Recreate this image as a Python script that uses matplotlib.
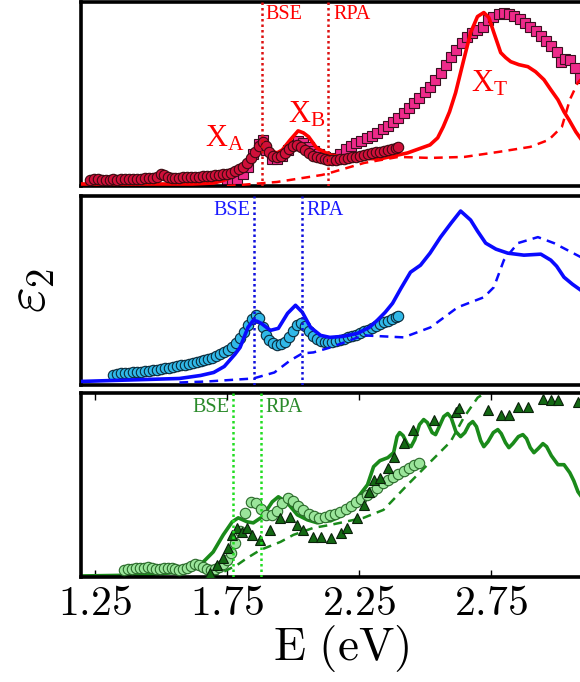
import numpy as np
import matplotlib
matplotlib.use('Agg')
import matplotlib.pyplot as plt

plt.rcParams['mathtext.fontset'] = 'cm'
plt.rcParams['font.family'] = ['Liberation Serif', 'DejaVu Serif']

## ------------------------------
## top panel (red)
red_sol_x = [1.19, 1.50, 1.62, 1.70, 1.73, 1.76, 1.79, 1.81, 1.83, 1.85, 1.87, 1.89, 1.91, 1.94, 1.96,
             1.99, 2.02, 2.04, 2.06, 2.09, 2.14, 2.218, 2.33, 2.435, 2.52, 2.549, 2.57, 2.594,
             2.617, 2.648, 2.674, 2.70, 2.724, 2.743, 2.762, 2.788, 2.807, 2.826, 2.857, 2.891,
             2.92, 2.952, 2.978, 3.005, 3.028, 3.047, 3.073, 3.10]
red_sol_y = [2, 2, 2, 3, 5, 8, 13, 18, 23, 29, 34, 38, 36, 33, 36,
             46, 55, 53, 49, 38, 31, 28, 27, 33, 41, 48, 59, 74,
             93, 126, 153, 169, 173, 168, 153, 133, 128, 124, 121, 119,
             114, 106, 96, 86, 74, 66, 54, 44]
red_das_x = [1.75, 1.80, 1.94, 2.11, 2.14, 2.27, 2.40, 2.52, 2.65, 2.78, 2.90, 2.97, 3.02, 3.05, 3.08, 3.10]
red_das_y = [0, 1, 4, 11, 13, 23, 29, 28, 29, 34, 39, 46, 59, 86, 103, 109]
red_circ_x = [1.230, 1.245, 1.260, 1.275, 1.290, 1.305, 1.320, 1.335, 1.350, 1.365, 1.380, 1.395,
              1.410, 1.425, 1.440, 1.455, 1.470, 1.485, 1.500, 1.512, 1.525, 1.540, 1.555, 1.570,
              1.585, 1.600, 1.615, 1.630, 1.645, 1.660, 1.675, 1.690, 1.705, 1.720, 1.735, 1.750,
              1.765, 1.780, 1.795, 1.810, 1.825, 1.840, 1.855, 1.870, 1.885, 1.897, 1.910, 1.925,
              1.940, 1.955, 1.970, 1.985, 2.000, 2.015, 2.030, 2.045, 2.060, 2.075, 2.090, 2.105,
              2.120, 2.135, 2.150, 2.165, 2.180, 2.195, 2.210, 2.225, 2.240, 2.255, 2.270, 2.285,
              2.300, 2.315, 2.330, 2.345, 2.360, 2.375, 2.390, 2.400]
red_circ_y = [6, 7, 7, 6, 6, 6, 7, 6, 7, 7, 7, 7,
              7, 7, 8, 8, 8, 9, 12, 11, 9, 8, 8, 8,
              9, 9, 9, 9, 9, 10, 10, 10, 11, 11, 12, 12,
              13, 15, 17, 19, 23, 28, 34, 40, 44, 40, 34, 30,
              29, 30, 33, 37, 40, 41, 39, 36, 33, 30, 29, 28,
              27, 26, 26, 26, 27, 27, 28, 29, 29, 30, 31, 32,
              33, 34, 34, 35, 36, 37, 38, 39]
red_sq_x = [1.75, 1.77, 1.79, 1.81, 1.83, 1.85, 1.87, 1.885, 1.90, 1.92, 1.94, 1.96, 1.98, 2.00, 2.02,
            2.04, 2.06, 2.08, 2.10, 2.12, 2.14, 2.16, 2.18, 2.20, 2.22, 2.24, 2.26, 2.28, 2.30, 2.32,
            2.34, 2.36, 2.38, 2.40, 2.42, 2.44, 2.46, 2.48, 2.50, 2.52, 2.54, 2.56, 2.58, 2.60, 2.62,
            2.64, 2.66, 2.68, 2.70, 2.72, 2.74, 2.76, 2.78, 2.80, 2.82, 2.84, 2.86, 2.88, 2.90, 2.92,
            2.94, 2.96, 2.98, 3.00, 3.015, 3.03, 3.05, 3.07, 3.09]
red_sq_y = [2, 4, 7, 12, 19, 32, 42, 46, 36, 27, 27, 30, 36, 41, 45,
            43, 39, 35, 32, 29, 27, 28, 32, 37, 40, 43, 45, 48, 50, 53,
            57, 60, 64, 68, 73, 78, 83, 88, 94, 99, 106, 113, 121, 129, 136,
            143, 149, 153, 156, 159, 166, 169, 172, 173, 172, 170, 167, 163, 159, 155,
            150, 145, 140, 134, 124, 127, 126, 118, 108]
red_bse = 1.884
red_rpa = 2.135

## middle panel (blue)
blue_sol_x = [1.19, 1.57, 1.65, 1.70, 1.74, 1.76, 1.78, 1.80, 1.83, 1.85, 1.865, 1.88, 1.915, 1.945,
              1.98, 2.01, 2.036, 2.067, 2.105, 2.14, 2.19, 2.245, 2.29, 2.32, 2.35, 2.378, 2.41,
              2.446, 2.484, 2.52, 2.56, 2.60, 2.636, 2.674, 2.70, 2.731, 2.77, 2.815, 2.876,
              2.94, 2.978, 3.00, 3.028, 3.06, 3.092]
blue_sol_y = [3, 6, 9, 12, 18, 24, 30, 37, 57, 64, 63, 61, 54, 56,
              71, 79, 72, 57, 49, 47, 48, 51, 57, 64, 72, 81, 96,
              112, 119, 131, 147, 161, 173, 164, 153, 141, 135, 131, 129,
              130, 124, 118, 107, 100, 94]
blue_das_x = [1.57, 1.675, 1.85, 1.93, 1.99, 2.036, 2.078, 2.143, 2.268, 2.42, 2.522, 2.625, 2.724,
              2.762, 2.80, 2.853, 2.929, 2.99, 3.092]
blue_das_y = [2, 3, 6, 12, 24, 31, 32, 37, 49, 47, 57, 77, 87, 97, 124, 141, 147, 141, 127]
blue_circ_x = [1.320, 1.335, 1.350, 1.365, 1.380, 1.395, 1.410, 1.425, 1.440, 1.455, 1.470, 1.485,
               1.500, 1.515, 1.530, 1.545, 1.560, 1.575, 1.590, 1.605, 1.620, 1.635, 1.650, 1.665,
               1.680, 1.695, 1.710, 1.725, 1.740, 1.755, 1.770, 1.785, 1.800, 1.815, 1.830, 1.845,
               1.860, 1.872, 1.885, 1.897, 1.910, 1.925, 1.940, 1.955, 1.970, 1.985, 2.000, 2.015,
               2.030, 2.045, 2.060, 2.075, 2.090, 2.105, 2.120, 2.135, 2.150, 2.165, 2.180, 2.195,
               2.210, 2.225, 2.240, 2.255, 2.270, 2.285, 2.300, 2.315, 2.330, 2.345, 2.360, 2.375,
               2.390, 2.400]
blue_circ_y = [9, 10, 11, 11, 11, 12, 12, 12, 13, 13, 14, 14,
               15, 16, 16, 17, 18, 19, 19, 20, 21, 22, 23, 24,
               25, 26, 28, 30, 32, 34, 37, 41, 46, 52, 59, 65,
               69, 66, 57, 49, 44, 41, 39, 40, 42, 47, 53, 59,
               61, 58, 53, 48, 45, 43, 42, 42, 42, 43, 44, 45,
               47, 48, 49, 51, 53, 54, 56, 58, 60, 62, 63, 65,
               67, 68]
blue_bse = 1.854
blue_rpa = 2.036

## bottom panel (green)
grn_sol_x = [1.19, 1.447, 1.573, 1.649, 1.698, 1.736, 1.77, 1.793, 1.827, 1.85, 1.884, 1.922, 1.945,
             1.979, 2.017, 2.055, 2.093, 2.12, 2.143, 2.192, 2.245, 2.283, 2.306, 2.33, 2.36, 2.382,
             2.395, 2.405, 2.418, 2.435, 2.448, 2.462, 2.48, 2.496, 2.51, 2.528, 2.541, 2.555,
             2.572, 2.587, 2.60, 2.618, 2.636, 2.652, 2.668, 2.682, 2.696, 2.712, 2.724, 2.74,
             2.76, 2.777, 2.79, 2.806, 2.819, 2.834, 2.855, 2.872, 2.886, 2.90, 2.914, 2.93,
             2.948, 2.962, 2.98, 3.005, 3.028, 3.05, 3.065, 3.081, 3.10]
grn_sol_y = [1, 2, 5, 12, 25, 42, 55, 59, 55, 54, 60, 75, 80,
             74, 62, 57, 54, 56, 56, 62, 79, 92, 110, 116, 119, 124,
             140, 144, 141, 132, 130, 137, 152, 157, 154, 144, 142, 150,
             160, 163, 159, 145, 140, 144, 152, 155, 150, 136, 130, 135,
             144, 147, 143, 134, 129, 133, 140, 142, 138, 129, 124, 128,
             133, 130, 121, 112, 112, 104, 96, 85, 78]
grn_das_x = [1.687, 1.736, 1.789, 1.827, 1.877, 1.953, 2.002, 2.078, 2.143, 2.268, 2.344, 2.435,
             2.522, 2.598, 2.648, 2.701, 2.739, 2.77]
grn_das_y = [0, 5, 12, 19, 27, 35, 42, 49, 52, 59, 67, 92, 115, 135, 159, 179, 185, 195]
grn_circ_x = [1.36, 1.375, 1.39, 1.405, 1.42, 1.435, 1.45, 1.465, 1.48, 1.495, 1.51, 1.525, 1.54,
              1.555, 1.57, 1.585, 1.60, 1.615, 1.63, 1.645, 1.66, 1.675, 1.69, 1.705, 1.72, 1.735,
              1.75, 1.765, 1.78, 1.80, 1.82, 1.84, 1.86, 1.88, 1.90, 1.92, 1.94, 1.96,
              1.98, 2.00, 2.02, 2.04, 2.06, 2.08, 2.10, 2.12, 2.14, 2.16, 2.18, 2.20, 2.22, 2.24,
              2.26, 2.28, 2.30, 2.32, 2.34, 2.36, 2.38, 2.40, 2.42, 2.44, 2.46, 2.48]
grn_circ_y = [7, 8, 8, 9, 9, 9, 10, 9, 8, 8, 9, 9, 9,
              8, 7, 8, 9, 11, 13, 12, 10, 8, 7, 8, 10, 13,
              17, 24, 34, 46, 64, 75, 74, 68, 62, 62, 66, 74,
              79, 76, 71, 67, 63, 61, 59, 60, 62, 63, 65, 68, 71, 75,
              78, 82, 85, 89, 94, 97, 100, 103, 106, 109, 112, 114]
grn_tri_x = [1.687, 1.713, 1.736, 1.755, 1.77, 1.789, 1.808, 1.827, 1.846, 1.877, 1.915, 1.953, 1.991,
             2.017, 2.04, 2.078, 2.105, 2.143, 2.181, 2.207, 2.245, 2.268, 2.287, 2.306, 2.332,
             2.359, 2.382, 2.42, 2.454, 2.534, 2.617, 2.629, 2.739, 2.788, 2.819, 2.853, 2.891,
             2.948, 2.978, 3.005, 3.081]
grn_tri_y = [4, 12, 19, 29, 42, 49, 45, 49, 42, 37, 47, 59, 60,
             52, 47, 40, 40, 39, 44, 49, 59, 72, 85, 97, 99,
             109, 120, 134, 147, 157, 165, 169, 167, 162, 162, 170, 170,
             178, 177, 177, 175]
grn_bse = 1.774
grn_rpa = 1.880

xticks = [1.25, 1.75, 2.25, 2.75]
xticklabels = ['1.25', '1.75', '2.25', '2.75']

## ------------------------------
fig = plt.figure(figsize=(5.8, 6.82), dpi=100)
W = 580.
H = 682.
left = 81 / W
width = (583 - 81) / W
ax1 = fig.add_axes([left, (H - 186) / H, width, 184.5 / H])
ax2 = fig.add_axes([left, (H - 384.5) / H, width, 188.5 / H])
ax3 = fig.add_axes([left, (H - 577) / H, width, 184.5 / H])

for ax in (ax1, ax2, ax3):
	ax.set_xlim(1.1968, 3.1)
	for s in ax.spines.values():
		s.set_linewidth(2.6)
ax1.set_ylim(0, 184)
ax2.set_ylim(0, 188)
ax3.set_ylim(0, 184)

for ax in (ax1, ax2):
	ax.set_xticks([])
	ax.set_yticks([])
ax3.set_yticks([])
ax3.set_xticks(xticks)
ax3.set_xticklabels(['$' + t + '$' for t in xticklabels], fontsize=30)
ax3.tick_params(axis='x', direction='in', top=True, length=5, width=1, pad=6)

lw = 2.6
dash = (0, (3.5, 2.5))
dots = (0, (1, 1.2))

## top
ax1.plot(red_sq_x, red_sq_y, 's', ms=7.5, mfc='#ee2a8a', mec='#3a1020', mew=0.8, zorder=2)
ax1.plot(red_sol_x, red_sol_y, '-', color='#ff0000', lw=lw, zorder=3)
ax1.plot(red_das_x, red_das_y, color='#ff0000', lw=1.8, ls=dash, zorder=3)
ax1.plot(red_circ_x, red_circ_y, 'o', ms=7.5, mfc='#d0103a', mec='#3a0a10', mew=0.8, zorder=4)
for xv in (red_bse, red_rpa):
	ax1.axvline(xv, color='#dd1111', lw=1.8, ls=dots, zorder=5)
ax1.text(red_bse + 0.012, 171, 'BSE', color='red', fontsize=14.5, va='center', ha='left')
ax1.text(red_rpa + 0.018, 171, 'RPA', color='red', fontsize=14.5, va='center', ha='left')
ax1.text(1.668, 39, r'$\mathregular{X_A}$', color='red', fontsize=22, va='baseline')
ax1.text(1.983, 63, r'$\mathregular{X_B}$', color='red', fontsize=22, va='baseline')
ax1.text(2.674, 94, r'$\mathregular{X_T}$', color='red', fontsize=22, va='baseline')

## middle
ax2.plot(blue_circ_x, blue_circ_y, 'o', ms=7.5, mfc='#30b8e8', mec='#0a2a3a', mew=0.8, zorder=2)
ax2.plot(blue_sol_x, blue_sol_y, '-', color='#0a0aff', lw=lw, zorder=3)
ax2.plot(blue_das_x, blue_das_y, color='#0a0aff', lw=1.8, ls=dash, zorder=3)
for xv in (blue_bse, blue_rpa):
	ax2.axvline(xv, color='#1010dd', lw=1.8, ls=dots, zorder=5)
ax2.text(blue_bse - 0.015, 174, 'BSE', color='#1a1aff', fontsize=14.5, va='center', ha='right')
ax2.text(blue_rpa + 0.015, 174, 'RPA', color='#1a1aff', fontsize=14.5, va='center', ha='left')

## bottom
ax3.plot(grn_sol_x, grn_sol_y, '-', color='#1a8a1a', lw=lw, zorder=2)
ax3.plot(grn_das_x, grn_das_y, color='#1a8a1a', lw=1.8, ls=dash, zorder=2)
ax3.plot(grn_circ_x, grn_circ_y, 'o', ms=7.5, mfc='#9be59b', mec='#2a6a2a', mew=0.8, zorder=3)
ax3.plot(grn_tri_x, grn_tri_y, '^', ms=7.5, mfc='#136813', mec='#0a200a', mew=0.8, zorder=4)
for xv in (grn_bse, grn_rpa):
	ax3.axvline(xv, color='#22dd22', lw=1.8, ls=dots, zorder=5)
ax3.text(grn_bse - 0.015, 169, 'BSE', color='#2a8a2a', fontsize=14.5, va='center', ha='right')
ax3.text(grn_rpa + 0.015, 169, 'RPA', color='#2a8a2a', fontsize=14.5, va='center', ha='left')

ax3.set_xlabel(r'$\mathrm{E\ (eV)}$', fontsize=34)
ax3.xaxis.set_label_coords((341 - 81) / 502., -0.25)
fig.text(32 / W, (H - 290) / H, r'$\varepsilon_2$', fontsize=40, rotation=90, ha='center', va='center')

plt.savefig('out.png', dpi=100)
